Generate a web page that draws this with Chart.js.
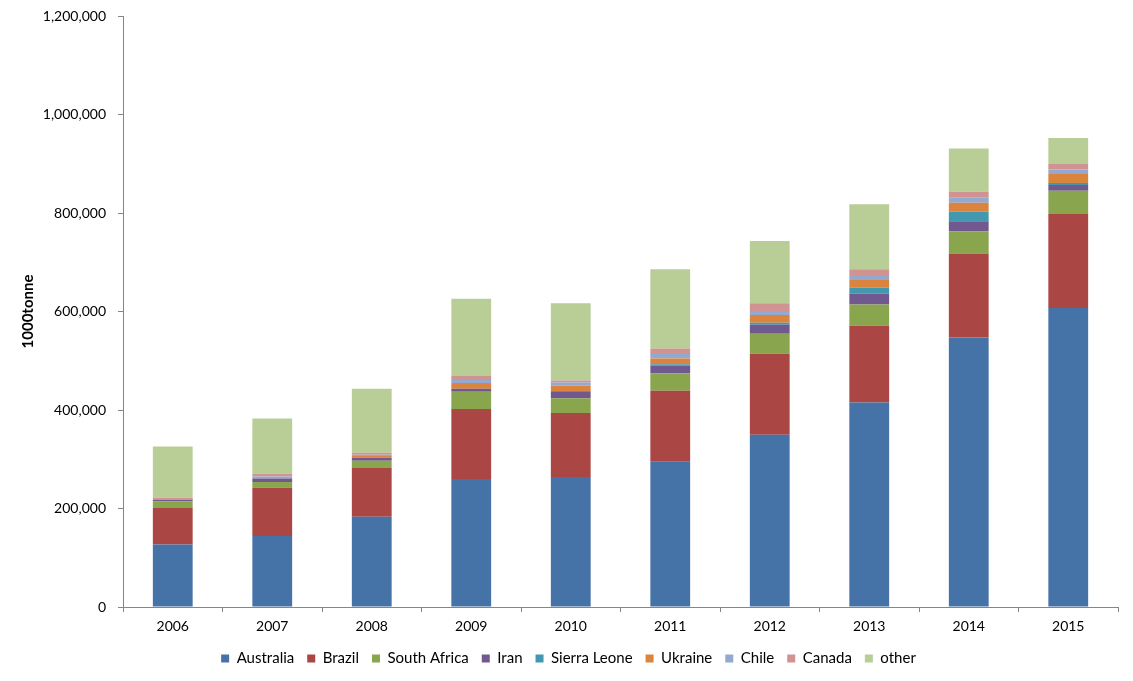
<!DOCTYPE html>
<html>
<head>
<meta charset="utf-8">
<script src="https://cdn.jsdelivr.net/npm/chart.js@4/dist/chart.umd.min.js"></script>
<style>
  html, body { margin: 0; padding: 0; background: #ffffff; }
  #wrap { width: 1133px; height: 681px; position: relative; }
</style>
</head>
<body>
<div id="wrap"><canvas id="c" width="1133" height="681"></canvas></div>
<script>
const years = ['2006','2007','2008','2009','2010','2011','2012','2013','2014','2015'];

const australia   = [127000, 144000, 183000, 260000, 264000, 295000, 350000, 415000, 547000, 607000];
const brazil      = [75000, 98000, 100000, 142000, 130000, 144000, 164000, 156000, 171000, 191000];
const southAfrica = [12000, 12000, 14000, 35000, 30000, 35000, 41000, 43000, 45000, 47000];
const iran        = [4000, 7000, 6000, 6000, 14000, 16000, 18000, 22000, 20000, 12000];
const sierraLeone = [0, 0, 0, 0, 0, 3000, 4000, 12000, 20000, 4000];
const ukraine     = [0, 0, 3500, 12000, 12000, 11500, 16000, 16000, 18000, 18000];
const chile       = [0, 4000, 2700, 6000, 6000, 9000, 8000, 8000, 10000, 9500];
const canada      = [4000, 5500, 4000, 8000, 4000, 11500, 16000, 14000, 12000, 11000];
const other       = [104000, 112000, 130000, 157000, 157000, 161000, 126000, 132000, 88000, 53000];

const yTicks = [0, 200000, 400000, 600000, 800000, 1000000, 1200000];

const seriesNames  = ['Australia','Brazil','South Africa','Iran','Sierra Leone','Ukraine','Chile','Canada','other'];
const seriesData   = [australia, brazil, southAfrica, iran, sierraLeone, ukraine, chile, canada, other];
const seriesColors = ['#4572A7','#AA4643','#89A54E','#71588F','#4198AF','#DB843D','#93A9CF','#D19392','#B9CD96'];

const FONT = 'Lato, "Open Sans", "Liberation Sans", sans-serif';
const AXIS = '#868686';

new Chart(document.getElementById('c'), {
  type: 'bar',
  data: {
    labels: years,
    datasets: seriesNames.map((n, i) => ({
      label: n,
      data: seriesData[i],
      backgroundColor: seriesColors[i],
      borderWidth: 0,
      barPercentage: 0.4,
      categoryPercentage: 1.0
    }))
  },
  options: {
    responsive: false,
    animation: false,
    devicePixelRatio: 1,
    layout: { padding: { left: 19, right: 15, top: 16, bottom: 5 } },
    plugins: {
      tooltip: { enabled: false },
      legend: {
        position: 'bottom',
        labels: {
          boxWidth: 8, boxHeight: 8,
          padding: 13,
          color: '#000000',
          font: { family: FONT, size: 15 }
        }
      }
    },
    scales: {
      x: {
        stacked: true,
        grid: { display: true, drawOnChartArea: false, drawTicks: true, tickLength: 5, color: AXIS, offset: true },
        border: { display: true, color: AXIS, width: 1 },
        ticks: { color: '#000000', font: { family: FONT, size: 14 }, padding: 6 },
        afterFit: (s) => { s.height = 31; s.paddingLeft = 0; s.paddingRight = 0; }
      },
      y: {
        stacked: true,
        min: 0, max: 1200000,
        afterBuildTicks: (s) => { s.ticks = yTicks.map(v => ({ value: v })); },
        grid: { display: true, drawOnChartArea: false, drawTicks: true, tickLength: 5, color: AXIS },
        border: { display: true, color: AXIS, width: 1 },
        ticks: {
          color: '#000000',
          font: { family: FONT, size: 14 },
          padding: 12,
          callback: (v) => Number(v).toLocaleString('en-US')
        },
        title: {
          display: true,
          text: '1000tonne',
          color: '#000000',
          font: { family: FONT, size: 15, weight: 'bold' },
          padding: { top: 0, bottom: 0 }
        },
        afterFit: (s) => { s.width = 104; s.paddingTop = 0; s.paddingBottom = 0; }
      }
    }
  }
});
</script>
</body>
</html>
